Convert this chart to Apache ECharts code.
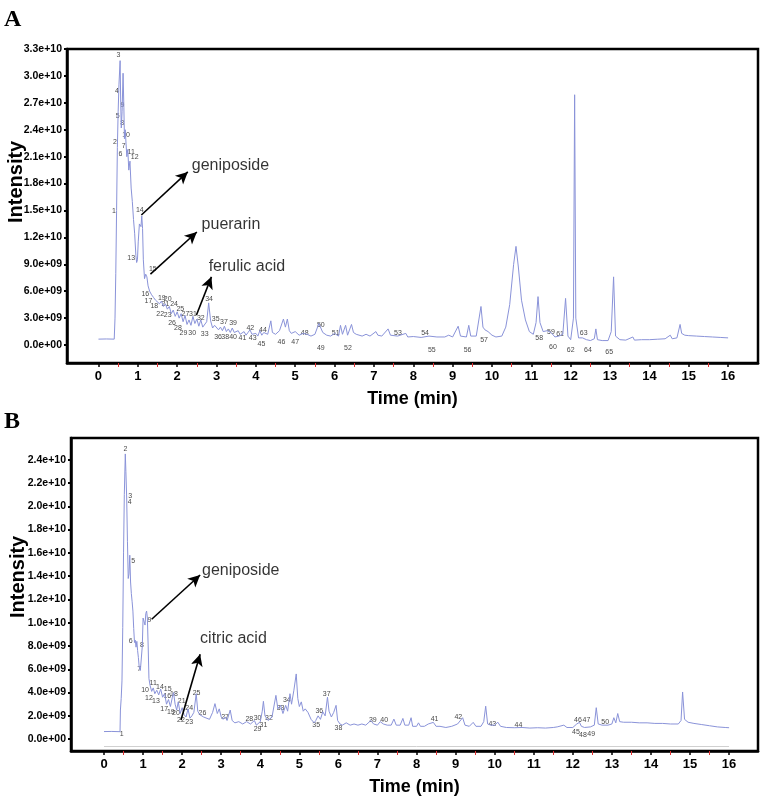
<!DOCTYPE html>
<html>
<head>
<meta charset="utf-8">
<script src="https://cdn.jsdelivr.net/npm/echarts@6/dist/echarts.min.js"></script>
<style>html,body{margin:0;padding:0;background:#fff}#c{width:767px;height:797px}</style>
</head>
<body>
<div id="c"></div>
<script>
// ---- data (time in min, intensity in units of 1e9) ----
const timeTicks = [0,1,2,3,4,5,6,7,8,9,10,11,12,13,14,15,16];
const halfTicks = [0.5,1.5,2.5,3.5,4.5,5.5,6.5,7.5,8.5,9.5,10.5,11.5,12.5,13.5,14.5,15.5];
const yTicksA = [0,3,6,9,12,15,18,21,24,27,30,33];
const yTicksB = [0,2,4,6,8,10,12,14,16,18,20,22,24];

const traceA = [[0,0.66],[0.2,0.68],[0.4,0.66],[0.41,0.7],[0.42,3],[0.44,8],[0.46,15],[0.48,22],[0.5,26],[0.52,29],[0.55,31.7],[0.565,27],[0.58,24.2],[0.6,26],[0.625,30.3],[0.645,26.5],[0.66,23],[0.68,24],[0.7,22.5],[0.72,21],[0.745,21.8],[0.77,19.5],[0.8,20.5],[0.83,17.5],[0.86,16],[0.89,14],[0.92,12.4],[0.95,10],[0.97,9.2],[0.99,9.5],[1.01,11.5],[1.04,13.5],[1.06,13.7],[1.08,13.2],[1.1,14.4],[1.12,13],[1.14,9.5],[1.17,7.4],[1.2,7.9],[1.23,7.6],[1.26,6.6],[1.3,6.0],[1.35,5.6],[1.4,5.3],[1.45,5.0],[1.5,5.2],[1.55,4.6],[1.6,4.9],[1.65,4.3],[1.7,4.6],[1.75,4.0],[1.8,4.3],[1.85,3.5],[1.9,3.9],[1.95,3.2],[2.0,3.7],[2.05,3.0],[2.1,3.5],[2.15,2.6],[2.2,3.3],[2.25,2.3],[2.3,2.8],[2.35,2.2],[2.4,3.2],[2.45,2.4],[2.5,2.9],[2.55,2.1],[2.6,2.8],[2.65,2.0],[2.7,2.1],[2.75,2.6],[2.8,4.7],[2.85,2.7],[2.9,1.9],[2.95,2.2],[3.0,2.0],[3.05,1.7],[3.1,2.0],[3.15,1.6],[3.2,2.1],[3.25,1.5],[3.3,1.8],[3.35,1.4],[3.4,1.9],[3.45,1.4],[3.5,1.3],[3.55,1.6],[3.6,1.2],[3.7,1.5],[3.75,1.1],[3.8,1.4],[3.85,1.7],[3.9,1.2],[4.0,1.3],[4.05,1.0],[4.1,1.6],[4.15,1.1],[4.2,1.4],[4.3,1.2],[4.38,2.7],[4.42,1.4],[4.5,1.2],[4.6,1.6],[4.7,2.9],[4.75,2.0],[4.8,2.9],[4.85,1.6],[4.9,1.3],[5.0,1.5],[5.1,1.1],[5.2,1.3],[5.3,1.2],[5.4,1.0],[5.5,1.2],[5.6,2.4],[5.65,1.9],[5.7,1.4],[5.8,1.1],[5.9,1.0],[6.0,1.3],[6.1,1.0],[6.15,2.2],[6.2,1.2],[6.28,2.2],[6.33,1.1],[6.43,2.3],[6.48,1.4],[6.55,1.2],[6.6,1.3],[6.7,1.0],[6.8,1.2],[6.9,1.0],[7.05,1.5],[7.1,1.1],[7.2,1.0],[7.36,1.8],[7.42,1.1],[7.6,1.0],[7.81,1.3],[7.86,0.9],[8.0,0.95],[8.2,0.85],[8.4,1.0],[8.6,0.9],[8.8,0.9],[8.9,1.1],[9.0,0.9],[9.14,2.1],[9.2,1.0],[9.35,0.9],[9.41,2.2],[9.46,1.0],[9.6,1.0],[9.72,4.3],[9.77,2.0],[9.82,1.7],[9.9,1.5],[10.0,1.1],[10.1,0.9],[10.25,1.0],[10.35,2.0],[10.45,4.5],[10.55,9.0],[10.61,11.0],[10.67,8.7],[10.75,5.0],[10.85,2.8],[10.95,1.5],[11.05,1.2],[11.12,2.5],[11.17,5.4],[11.22,2.5],[11.3,1.5],[11.4,1.6],[11.5,1.4],[11.6,0.9],[11.7,1.0],[11.8,1.2],[11.87,5.2],[11.93,1.0],[12.0,0.6],[12.07,3],[12.1,27.9],[12.13,3],[12.2,0.8],[12.3,0.8],[12.4,0.6],[12.5,0.5],[12.6,0.7],[12.64,1.8],[12.68,0.6],[12.8,0.5],[12.95,0.5],[13.03,1.5],[13.09,7.6],[13.14,1.0],[13.25,0.6],[13.4,0.55],[13.58,0.9],[13.62,0.55],[13.8,0.6],[14.0,0.6],[14.2,0.65],[14.4,0.7],[14.53,1.1],[14.58,0.7],[14.7,0.8],[14.78,2.3],[14.82,1.3],[14.9,1.1],[15.0,1.05],[15.2,1.0],[15.4,0.95],[15.6,0.9],[15.8,0.85],[16.0,0.8]];

const traceB = [[0,0.65],[0.2,0.66],[0.41,0.64],[0.42,2.5],[0.44,3.5],[0.46,5],[0.48,9.6],[0.5,16],[0.52,21],[0.545,24.5],[0.56,23],[0.58,20.8],[0.6,17],[0.62,13.8],[0.64,14.2],[0.66,15.8],[0.68,13.5],[0.7,12.5],[0.72,11.8],[0.74,11.0],[0.76,9.5],[0.78,8.3],[0.8,8.5],[0.82,7.9],[0.84,8.4],[0.86,7.6],[0.88,7.0],[0.9,6.2],[0.93,5.9],[0.96,5.8],[0.98,8],[1.0,10.4],[1.02,10.5],[1.05,9.8],[1.07,10.8],[1.09,11.0],[1.11,10.4],[1.13,8],[1.15,5.2],[1.18,4.6],[1.22,4.1],[1.26,4.4],[1.3,3.9],[1.35,4.2],[1.4,3.8],[1.45,4.3],[1.5,3.6],[1.55,3.9],[1.6,3.0],[1.65,3.4],[1.7,2.8],[1.75,3.6],[1.78,4.0],[1.82,3.0],[1.86,2.5],[1.9,3.2],[1.95,2.2],[2.0,2.7],[2.05,2.1],[2.1,1.9],[2.15,2.6],[2.2,1.8],[2.25,2.0],[2.3,2.3],[2.36,3.9],[2.4,2.4],[2.45,2.1],[2.5,2.2],[2.55,1.9],[2.6,1.8],[2.7,1.7],[2.78,2.3],[2.84,3.05],[2.9,2.2],[2.95,2.6],[3.0,1.9],[3.05,1.7],[3.1,1.9],[3.15,1.6],[3.23,2.5],[3.28,1.6],[3.35,1.4],[3.45,1.5],[3.55,1.3],[3.65,1.5],[3.75,1.3],[3.85,1.6],[3.9,1.2],[4.0,1.5],[4.05,2.4],[4.08,3.25],[4.12,2.0],[4.2,1.6],[4.3,1.9],[4.4,3.76],[4.45,2.6],[4.52,2.9],[4.58,2.2],[4.65,2.9],[4.7,2.4],[4.76,3.9],[4.8,3.0],[4.86,4.2],[4.92,5.6],[4.96,3.5],[5.0,2.8],[5.05,3.2],[5.1,2.4],[5.15,2.6],[5.22,2.3],[5.3,1.7],[5.38,1.4],[5.42,1.6],[5.48,2.0],[5.54,1.7],[5.6,2.35],[5.66,2.0],[5.72,3.6],[5.76,2.4],[5.82,1.9],[5.88,2.3],[5.94,2.9],[5.98,1.6],[6.04,1.3],[6.1,1.2],[6.2,1.4],[6.3,1.2],[6.4,1.3],[6.5,1.2],[6.6,1.3],[6.7,1.2],[6.83,1.6],[6.9,1.3],[7.0,1.2],[7.07,1.5],[7.15,1.3],[7.25,1.2],[7.35,1.2],[7.42,1.72],[7.48,1.2],[7.58,1.2],[7.65,1.78],[7.7,1.2],[7.8,1.2],[7.86,1.84],[7.9,1.1],[8.0,1.1],[8.05,1.4],[8.1,1.1],[8.2,1.1],[8.3,1.3],[8.43,1.44],[8.5,1.1],[8.6,1.1],[8.75,1.0],[8.9,1.1],[9.05,1.3],[9.18,1.84],[9.24,1.2],[9.35,1.1],[9.45,1.44],[9.52,1.1],[9.65,1.1],[9.72,1.5],[9.77,2.83],[9.82,1.3],[9.9,1.2],[10.0,1.2],[10.08,1.45],[10.15,1.1],[10.3,1.0],[10.5,0.98],[10.7,1.0],[10.9,0.95],[11.1,0.98],[11.3,0.95],[11.5,1.0],[11.6,1.05],[11.77,1.2],[11.85,1.0],[12.0,1.0],[12.1,1.3],[12.17,1.44],[12.22,1.1],[12.3,1.0],[12.45,1.05],[12.55,1.2],[12.6,2.7],[12.65,1.3],[12.75,1.2],[12.9,1.2],[13.0,1.3],[13.05,1.84],[13.1,1.4],[13.15,2.2],[13.2,1.5],[13.3,1.45],[13.5,1.45],[13.7,1.4],[13.9,1.4],[14.1,1.35],[14.3,1.35],[14.5,1.3],[14.7,1.3],[14.77,1.6],[14.81,4.05],[14.86,1.7],[14.95,1.45],[15.1,1.35],[15.3,1.25],[15.5,1.15],[15.7,1.05],[15.9,1.0],[16.0,0.98]];

// peak number labels: [number, time, intensity]
const peaksA = [[1,0.39,14.9],[2,0.42,22.6],[3,0.51,32.3],[4,0.47,28.3],[5,0.49,25.5],[6,0.56,21.3],[7,0.64,22.2],[8,0.60,24.8],[9,0.61,26.8],[10,0.70,23.4],[11,0.83,21.5],[12,0.92,20.9],[13,0.83,9.7],[14,1.05,15.0],[15,1.38,8.5],[16,1.19,5.65],[17,1.27,4.9],[18,1.42,4.4],[19,1.61,5.2],[20,1.76,5.1],[21,1.70,4.6],[22,1.57,3.4],[23,1.76,3.3],[24,1.92,4.6],[25,2.08,4.0],[26,1.87,2.5],[27,2.21,3.5],[28,2.02,1.9],[29,2.16,1.37],[30,2.38,1.3],[31,2.40,3.5],[32,2.60,3.0],[33,2.70,1.2],[34,2.81,5.1],[35,2.98,2.9],[36,3.04,0.9],[37,3.19,2.6],[38,3.22,0.85],[39,3.42,2.4],[40,3.42,0.85],[41,3.66,0.75],[42,3.86,1.9],[43,3.92,0.75],[44,4.18,1.67],[45,4.14,0.1],[46,4.65,0.33],[47,5.0,0.33],[48,5.24,1.37],[49,5.65,-0.33],[50,5.65,2.2],[51,6.03,1.3],[52,6.34,-0.33],[53,7.61,1.3],[54,8.3,1.3],[55,8.47,-0.56],[56,9.38,-0.56],[57,9.8,0.6],[58,11.2,0.8],[59,11.5,1.4],[60,11.55,-0.2],[61,11.73,1.2],[62,12.0,-0.56],[63,12.33,1.3],[64,12.44,-0.56],[65,12.98,-0.78]];
const peaksB = [[1,0.45,0.42],[2,0.55,24.9],[3,0.67,20.9],[4,0.66,20.4],[5,0.75,15.3],[6,0.68,8.4],[7,0.90,6.0],[8,0.97,8.1],[9,1.16,10.2],[10,1.05,4.24],[11,1.26,4.83],[12,1.15,3.56],[13,1.33,3.28],[14,1.43,4.47],[15,1.63,4.33],[16,1.62,3.7],[17,1.54,2.57],[18,1.79,3.85],[19,1.71,2.35],[20,1.84,2.2],[21,1.99,3.25],[22,1.97,1.64],[23,2.18,1.44],[24,2.18,2.69],[25,2.37,3.96],[26,2.52,2.26],[27,3.10,1.93],[28,3.72,1.7],[29,3.93,0.87],[30,3.93,1.84],[31,4.08,1.21],[32,4.22,1.78],[33,4.52,2.71],[34,4.68,3.39],[35,5.43,1.21],[36,5.51,2.43],[37,5.70,3.84],[38,6.0,0.93],[39,6.88,1.64],[40,7.17,1.64],[41,8.46,1.72],[42,9.07,1.87],[43,9.94,1.3],[44,10.61,1.21],[45,12.08,0.57],[46,12.13,1.64],[47,12.35,1.64],[48,12.26,0.31],[49,12.47,0.42],[50,12.83,1.5]];

// compound annotations: [text, textTime, textIntensity, arrowFromTime, arrowFromInt, arrowToTime, arrowToInt]
const notesA = [["geniposide",2.37,20.0,1.09,14.5,2.27,19.3],["puerarin",2.62,13.4,1.32,7.9,2.50,12.6],["ferulic acid",2.80,8.8,2.49,3.35,2.87,7.6]];
const notesB = [["geniposide",2.51,14.5,1.22,10.3,2.46,14.1],["citric acid",2.46,8.6,1.97,1.64,2.46,7.3]];

// ---- build ----
const LINE = '#8a93d9';
const fmtY = v => (v*1e9).toExponential(1).replace(/e([+-])(\d+)$/, (m,s,d) => 'e' + s + (d.length < 2 ? '0' + d : d));
const SANS = '"Liberation Sans", Arial, sans-serif';

function xAxes(gridIndex, min, max) {
  return [{
    type:'value', gridIndex, min, max, position:'bottom',
    name:'Time (min)', nameLocation:'middle', nameGap:27,
    nameTextStyle:{fontFamily:SANS, fontWeight:'bold', fontSize:18, color:'#000'},
    axisLine:{onZero:false, lineStyle:{color:'#000', width:2.5}},
    axisTick:{show:true, customValues:timeTicks, length:4, lineStyle:{color:'#000', width:1.5}},
    axisLabel:{customValues:timeTicks, fontFamily:SANS, fontWeight:'bold', fontSize:13, color:'#000', margin:7},
    splitLine:{show:false}
  },{
    type:'value', gridIndex, min, max, position:'bottom',
    axisLine:{show:false, onZero:false},
    axisTick:{show:true, customValues:halfTicks, length:4, lineStyle:{color:'#e03030', width:1}},
    axisLabel:{show:false, customValues:halfTicks},
    splitLine:{show:false}
  }];
}
function yAxis(gridIndex, min, max, ticks) {
  return {
    type:'value', gridIndex, min, max, position:'left',
    axisLine:{show:true, onZero:false, lineStyle:{color:'#000', width:2.5}},
    axisTick:{show:true, customValues:ticks, length:3, lineStyle:{color:'#000', width:2}},
    axisLabel:{customValues:ticks, formatter:fmtY, fontFamily:SANS, fontWeight:'bold', fontSize:10.5, color:'#000', margin:5},
    splitLine:{show:false}
  };
}
function peakSeries(peaks, xi, yi) {
  return {
    type:'scatter', xAxisIndex:xi, yAxisIndex:yi, symbolSize:0, silent:true,
    data: peaks.map(p => ({name:String(p[0]), value:[p[1], p[2]]})),
    label:{show:true, position:'inside', formatter:'{b}', fontFamily:SANS, fontSize:7, color:'#111'}
  };
}
function noteSeries(notes, xi, yi) {
  return {
    type:'scatter', xAxisIndex:xi, yAxisIndex:yi, symbolSize:0, silent:true,
    data: notes.map(n => ({name:n[0], value:[n[1], n[2]]})),
    label:{show:true, position:'right', distance:0, formatter:'{b}', fontFamily:SANS, fontSize:16, color:'#000'},
    markLine:{
      silent:true, symbol:['none','arrow'], symbolSize:[9,12],
      lineStyle:{color:'#000', width:1.6, type:'solid'}, label:{show:false},
      data: notes.map(n => [{coord:[n[3], n[4]]}, {coord:[n[5], n[6]]}])
    }
  };
}

const option = {
  animation:false,
  backgroundColor:'#fff',
  grid:[
    {left:67, top:49, right:9, height:314, show:true, borderColor:'#000', borderWidth:2.5, containLabel:false},
    {left:71, top:438, right:9, height:316, show:true, borderColor:'#000', borderWidth:2.5, containLabel:false}
  ],
  xAxis:[...xAxes(0, -0.8, 16.76), ...xAxes(1, -0.845, 16.74)],
  yAxis:[yAxis(0, -2.0, 33, yTicksA), yAxis(1, -1.02, 25.87, yTicksB)],
  series:[
    {type:'line', xAxisIndex:0, yAxisIndex:0, data:traceA, showSymbol:false, symbol:'none', lineStyle:{color:LINE, width:1}},
    {type:'line', xAxisIndex:2, yAxisIndex:1, data:traceB, showSymbol:false, symbol:'none', lineStyle:{color:LINE, width:1},
      markLine:{silent:true, symbol:['none','none'], label:{show:false}, lineStyle:{color:'#d0d0d0', width:1, type:'solid'},
        data:[[{coord:[0,-0.6]},{coord:[16,-0.6]}]]}},
    peakSeries(peaksA, 0, 0),
    peakSeries(peaksB, 2, 1),
    noteSeries(notesA, 0, 0),
    noteSeries(notesB, 2, 1)
  ],
  graphic:[
    {type:'text', left:4, top:8, style:{text:'A', font:'bold 24px "Liberation Serif", serif', fill:'#000'}},
    {type:'text', left:4, top:410, style:{text:'B', font:'bold 24px "Liberation Serif", serif', fill:'#000'}},
    {type:'text', x:6, y:223, rotation:Math.PI/2, style:{text:'Intensity', font:'bold 20px "Liberation Sans", Arial, sans-serif', fill:'#000'}},
    {type:'text', x:8, y:618, rotation:Math.PI/2, style:{text:'Intensity', font:'bold 20px "Liberation Sans", Arial, sans-serif', fill:'#000'}}
  ]
};
const chart = echarts.init(document.getElementById('c'), null, {renderer:'canvas'});
chart.setOption(option);
</script>
</body>
</html>
